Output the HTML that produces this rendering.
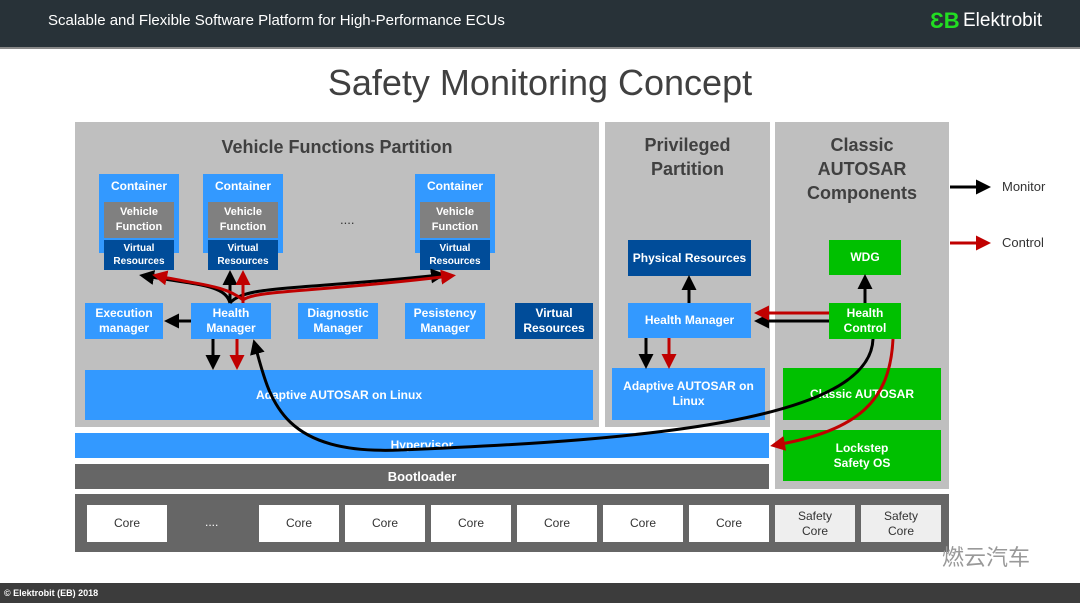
<!DOCTYPE html>
<html><head><meta charset="utf-8"><style>
body{margin:0;width:1080px;height:603px;position:relative;background:#fff;font-family:"Liberation Sans",sans-serif;overflow:hidden}
.b{position:absolute;display:flex;align-items:center;justify-content:center;text-align:center;color:#fff;font-weight:bold;font-size:12px;line-height:15px;box-sizing:border-box}
.g{background:#bfbfbf}.bl{background:#3399ff}.dk{background:#004c99}.gr{background:#00c000}.vf{background:#808080}
.h{position:absolute;color:#404040;font-weight:bold;font-size:18px;text-align:center;line-height:24px}
.c{position:absolute;background:#fff;top:505px;width:80px;height:37px;display:flex;align-items:center;justify-content:center;font-size:12px;color:#333;text-align:center;line-height:15px}
</style></head><body>
<div style="position:absolute;left:0;top:0;width:1080px;height:47px;background:#283238"></div>
<div style="position:absolute;left:0;top:47px;width:1080px;height:2px;background:#888"></div>
<div style="position:absolute;left:48px;top:12px;color:#fff;font-size:15px">Scalable and Flexible Software Platform for High-Performance ECUs</div>
<div style="position:absolute;left:930px;top:8px;color:#22dd22;font-size:22px;font-weight:bold">ƐB</div>
<div style="position:absolute;left:963px;top:10px;color:#fff;font-size:19px">Elektrobit</div>
<div style="position:absolute;left:0;width:1080px;top:62px;text-align:center;font-size:36px;color:#404040">Safety Monitoring Concept</div>

<div class="g" style="position:absolute;left:75px;top:122px;width:524px;height:305px"></div>
<div class="g" style="position:absolute;left:605px;top:122px;width:165px;height:305px"></div>
<div class="g" style="position:absolute;left:775px;top:122px;width:174px;height:367px"></div>
<div class="h" style="left:75px;width:524px;top:135px">Vehicle Functions Partition</div>
<div class="h" style="left:605px;width:165px;top:133px">Privileged<br>Partition</div>
<div class="h" style="left:775px;width:174px;top:133px">Classic<br>AUTOSAR<br>Components</div>

<div class="b bl" style="left:99px;top:174px;width:80px;height:79px;align-items:flex-start;padding-top:5px">Container</div>
<div class="b bl" style="left:203px;top:174px;width:80px;height:79px;align-items:flex-start;padding-top:5px">Container</div>
<div class="b bl" style="left:415px;top:174px;width:80px;height:79px;align-items:flex-start;padding-top:5px">Container</div>
<div class="b vf" style="left:104px;top:202px;width:70px;height:36px;font-size:11px">Vehicle<br>Function</div>
<div class="b vf" style="left:208px;top:202px;width:70px;height:36px;font-size:11px">Vehicle<br>Function</div>
<div class="b vf" style="left:420px;top:202px;width:70px;height:36px;font-size:11px">Vehicle<br>Function</div>
<div class="b dk" style="left:104px;top:240px;width:70px;height:30px;font-size:10px;line-height:13px">Virtual<br>Resources</div>
<div class="b dk" style="left:208px;top:240px;width:70px;height:30px;font-size:10px;line-height:13px">Virtual<br>Resources</div>
<div class="b dk" style="left:420px;top:240px;width:70px;height:30px;font-size:10px;line-height:13px">Virtual<br>Resources</div>
<div style="position:absolute;left:340px;top:212px;font-size:13px;color:#333">....</div>

<div class="b bl" style="left:85px;top:303px;width:78px;height:36px">Execution<br>manager</div>
<div class="b bl" style="left:191px;top:303px;width:80px;height:36px">Health<br>Manager</div>
<div class="b bl" style="left:298px;top:303px;width:80px;height:36px">Diagnostic<br>Manager</div>
<div class="b bl" style="left:405px;top:303px;width:80px;height:36px">Pesistency<br>Manager</div>
<div class="b dk" style="left:515px;top:303px;width:78px;height:36px">Virtual<br>Resources</div>
<div class="b bl" style="left:85px;top:370px;width:508px;height:50px">Adaptive AUTOSAR on Linux</div>

<div class="b dk" style="left:628px;top:240px;width:123px;height:36px">Physical Resources</div>
<div class="b bl" style="left:628px;top:303px;width:123px;height:35px">Health Manager</div>
<div class="b bl" style="left:612px;top:368px;width:153px;height:52px">Adaptive AUTOSAR on<br>Linux</div>
<div class="b gr" style="left:829px;top:240px;width:72px;height:35px">WDG</div>
<div class="b gr" style="left:829px;top:303px;width:72px;height:36px">Health<br>Control</div>
<div class="b gr" style="left:783px;top:368px;width:158px;height:52px">Classic AUTOSAR</div>
<div class="b gr" style="left:783px;top:430px;width:158px;height:51px">Lockstep<br>Safety OS</div>

<div class="b bl" style="left:75px;top:433px;width:694px;height:25px">Hypervisor</div>
<div class="b" style="left:75px;top:464px;width:694px;height:25px;background:#666;font-size:13px">Bootloader</div>

<div style="position:absolute;left:75px;top:494px;width:874px;height:58px;background:#666"></div>
<div class="c" style="left:87px">Core</div>
<div style="position:absolute;left:205px;top:515px;color:#fff;font-size:12px">....</div>
<div class="c" style="left:259px">Core</div><div class="c" style="left:345px">Core</div><div class="c" style="left:431px">Core</div>
<div class="c" style="left:517px">Core</div><div class="c" style="left:603px">Core</div><div class="c" style="left:689px">Core</div>
<div class="c" style="left:775px;background:#eee">Safety<br>Core</div><div class="c" style="left:861px;background:#eee">Safety<br>Core</div>

<div style="position:absolute;left:1002px;top:179px;font-size:13px;color:#333">Monitor</div>
<div style="position:absolute;left:1002px;top:235px;font-size:13px;color:#333">Control</div>
<div style="position:absolute;left:942px;top:540px;font-size:22px;color:#999;font-family:'Liberation Sans','Noto Sans CJK SC',sans-serif">燃云汽车</div>

<div style="position:absolute;left:0;top:583px;width:1080px;height:20px;background:#3c3c3c"></div>
<div style="position:absolute;left:4px;top:588px;color:#fff;font-size:9px;font-weight:bold">© Elektrobit (EB) 2018</div>

<svg width="1080" height="603" style="position:absolute;left:0;top:0" fill="none" stroke-width="3">
<defs>
<marker id="k" markerWidth="5" markerHeight="5" refX="3" refY="2.5" orient="auto"><path d="M0,0L5,2.5L0,5z" fill="#000"/></marker>
<marker id="r" markerWidth="5" markerHeight="5" refX="3" refY="2.5" orient="auto"><path d="M0,0L5,2.5L0,5z" fill="#c00000"/></marker>
</defs>
<g stroke="#000">
<path d="M950,187H985" marker-end="url(#k)"/>
<path d="M191,321H170" marker-end="url(#k)"/>
<path d="M213,339V364" marker-end="url(#k)"/>
<path d="M230,303V276" marker-end="url(#k)"/>
<path d="M230,303C225,285 200,285 145,276" marker-end="url(#k)"/>
<path d="M230,303C245,285 300,290 440,275" marker-end="url(#k)"/>
<path d="M689,303V281" marker-end="url(#k)"/>
<path d="M646,338V363" marker-end="url(#k)"/>
<path d="M829,321H760" marker-end="url(#k)"/>
<path d="M865,303V280" marker-end="url(#k)"/>
<path d="M873,339C870,420 650,440 400,450C280,455 270,400 255,345" marker-end="url(#k)"/>
</g>
<g stroke="#c00000">
<path d="M950,243H985" marker-end="url(#r)"/>
<path d="M237,339V364" marker-end="url(#r)"/>
<path d="M243,303V276" marker-end="url(#r)"/>
<path d="M243,300C225,285 200,285 158,276" marker-end="url(#r)"/>
<path d="M243,300C255,290 320,292 450,276" marker-end="url(#r)"/>
<path d="M669,338V363" marker-end="url(#r)"/>
<path d="M829,313H760" marker-end="url(#r)"/>
<path d="M893,339C890,400 860,430 776,445" marker-end="url(#r)"/>
</g>
</svg>
</body></html>
